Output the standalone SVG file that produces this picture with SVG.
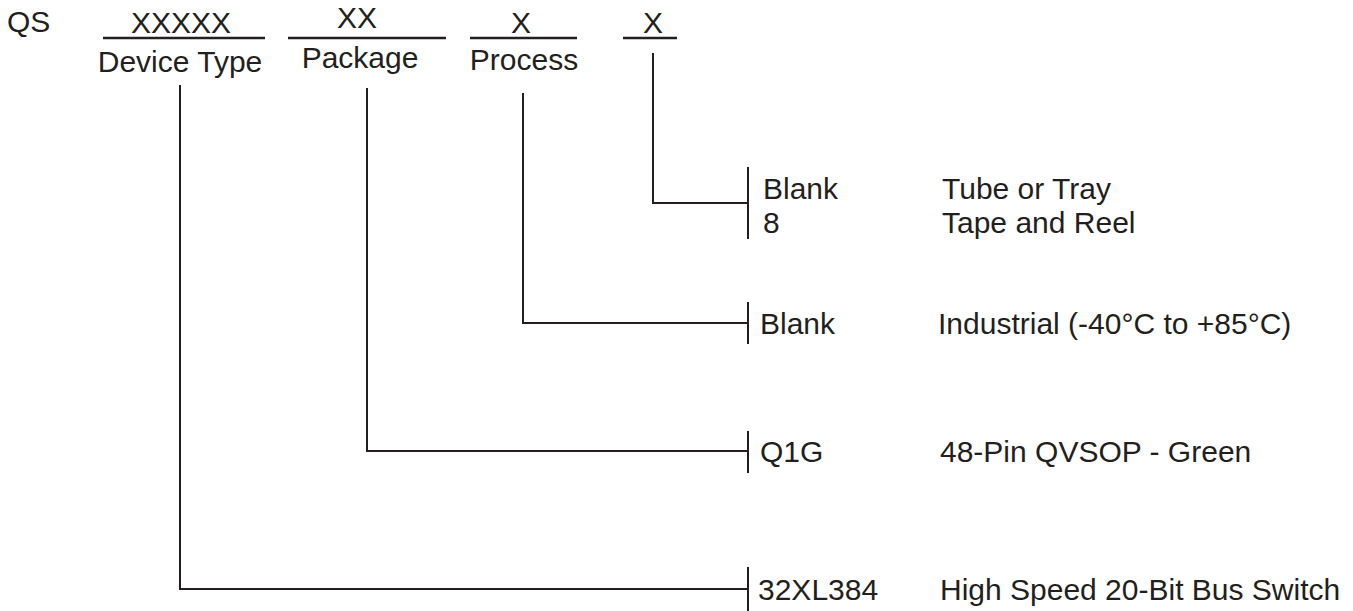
<svg xmlns="http://www.w3.org/2000/svg" width="1353" height="611" viewBox="0 0 1353 611">
<style>
text{font-family:"Liberation Sans",Arial,Helvetica,sans-serif;font-size:30px;fill:#231f20}
.c{text-anchor:middle}
.ln{stroke:#231f20;stroke-width:2;fill:none}
.ul{stroke:#231f20;stroke-width:2.4;fill:none}
</style>
<rect width="1353" height="611" fill="#ffffff"/>
<g id="header">
<text x="7" y="32">QS</text>
<g id="device-type-field">
<text class="c" x="181" y="33">XXXXX</text>
<line class="ul" x1="103" y1="38" x2="265" y2="38"/>
<text class="c" x="180" y="72">Device Type</text>
</g>
<g id="package-field">
<text class="c" x="357" y="28">XX</text>
<line class="ul" x1="288" y1="38" x2="446" y2="38"/>
<text class="c" x="360" y="68">Package</text>
</g>
<g id="process-field">
<text class="c" x="521" y="33">X</text>
<line class="ul" x1="470" y1="38" x2="577" y2="38"/>
<text class="c" x="524" y="70">Process</text>
</g>
<g id="packing-field">
<text class="c" x="653" y="33">X</text>
<line class="ul" x1="623" y1="38" x2="677" y2="38"/>
</g>
</g>
<g id="connectors">
<polyline class="ln" points="653,53 653,203 748,203"/>
<polyline class="ln" points="523,93 523,323 748,323"/>
<polyline class="ln" points="367,88 367,451 748,451"/>
<polyline class="ln" points="180,85 180,589 748,589"/>
<line class="ln" x1="748" y1="167" x2="748" y2="239"/>
<line class="ln" x1="748" y1="302" x2="748" y2="344"/>
<line class="ln" x1="748" y1="431" x2="748" y2="473"/>
<line class="ln" x1="748" y1="567" x2="748" y2="611"/>
</g>
<g id="packing-options">
<text x="763" y="199">Blank</text>
<text x="942" y="199">Tube or Tray</text>
<text x="763" y="233">8</text>
<text x="942" y="233">Tape and Reel</text>
</g>
<g id="process-options">
<text x="760" y="334">Blank</text>
<text x="938" y="334">Industrial (-40°C to +85°C)</text>
</g>
<g id="package-options">
<text x="760" y="462">Q1G</text>
<text x="940" y="462">48-Pin QVSOP - Green</text>
</g>
<g id="device-options">
<text x="758" y="600">32XL384</text>
<text x="940" y="600">High Speed 20-Bit Bus Switch</text>
</g>
</svg>
